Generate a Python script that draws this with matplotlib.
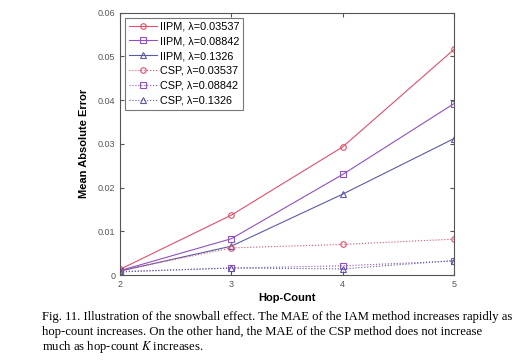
import numpy as np
import matplotlib.pyplot as plt

# hop-count values
hops = [2, 3, 4, 5]

# mean absolute error
iipm_1 = [0.0013, 0.0137, 0.0293, 0.0516]
iipm_2 = [0.0010, 0.0083, 0.0230, 0.0392]
iipm_3 = [0.0009, 0.0066, 0.0185, 0.0312]
csp_1 = [0.0010, 0.0062, 0.0070, 0.0082]
csp_2 = [0.0008, 0.0016, 0.0021, 0.0032]
csp_3 = [0.0007, 0.0016, 0.0014, 0.0033]

labels = ['IIPM, λ=0.03537', 'IIPM, λ=0.08842', 'IIPM, λ=0.1326',
          'CSP, λ=0.03537', 'CSP, λ=0.08842', 'CSP, λ=0.1326']

caption_lines = [
    'Fig. 11. Illustration of the snowball effect. The MAE of the IAM method increases rapidly as',
    'hop-count increases. On the other hand, the MAE of the CSP method does not increase',
    'much as hop-count $K$ increases.',
]

c_red = '#e0506a'
c_pur = '#9050c0'
c_blu = '#5a5aa8'

plt.rcParams['font.family'] = 'Liberation Sans'
plt.rcParams['mathtext.fontset'] = 'stix'

fig = plt.figure(figsize=(5.16, 3.61), dpi=100)
ax = fig.add_axes([0.2326, 0.2382, 0.6472, 0.7266])

series = [
    (iipm_1, c_red, 'o', '-'),
    (iipm_2, c_pur, 's', '-'),
    (iipm_3, c_blu, '^', '-'),
    (csp_1, c_red, 'o', ':'),
    (csp_2, c_pur, 's', ':'),
    (csp_3, c_blu, '^', ':'),
]
for (vals, col, mk, ls), lab in zip(series, labels):
    ax.plot(hops, vals, color=col, marker=mk, linestyle=ls, lw=0.8,
            ms=4, mfc='none', mew=0.8, label=lab)

ax.set_xlim(2, 5)
ax.set_ylim(0, 0.06)
ax.set_xticks([2, 3, 4, 5])
ax.set_yticks([0, 0.01, 0.02, 0.03, 0.04, 0.05, 0.06])
ax.set_yticklabels(['0', '0.01', '0.02', '0.03', '0.04', '0.05', '0.06'])
ax.tick_params(labelsize=6.5, colors='#555555', length=3, direction='in',
               top=True, right=True)
for s in ax.spines.values():
    s.set_color('#555555')
    s.set_linewidth(0.8)

ax.set_xlabel('Hop-Count', fontsize=8, fontweight='bold', labelpad=3)
ax.set_ylabel('Mean Absolute Error', fontsize=8, fontweight='bold', labelpad=6)

leg = ax.legend(loc='upper left', fontsize=7.8, frameon=True, fancybox=False,
                borderpad=0.35, labelspacing=0.45, handlelength=2.6,
                handletextpad=0.3, borderaxespad=0.45)
leg.get_frame().set_edgecolor('#555555')
leg.get_frame().set_linewidth(0.8)

# caption, one line at a time
for i, line in enumerate(caption_lines):
    fig.text(42 / 516, 1 - (317 + 15 * i) / 361, line, fontsize=9.1,
             family='Liberation Serif', va='center', ha='left')

fig.savefig('out.png', dpi=100)
